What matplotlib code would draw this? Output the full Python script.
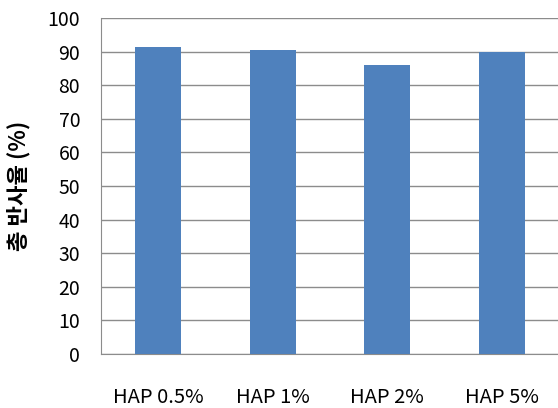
import matplotlib
matplotlib.use("Agg")
import matplotlib.pyplot as plt

plt.rcParams['font.family'] = ['Noto Sans CJK KR', 'DejaVu Sans']

labels = ['HAP 0.5%', 'HAP 1%', 'HAP 2%', 'HAP 5%']
reflectance = [91.4, 90.6, 86.1, 89.8]
yticks = [0, 10, 20, 30, 40, 50, 60, 70, 80, 90, 100]

fig = plt.figure(figsize=(5.58, 4.08), dpi=100)
ax = fig.add_axes([101 / 558, 1 - 354 / 408, 458 / 558, 336 / 408])

x = range(len(labels))
ax.bar(x, reflectance, width=0.4, color='#4F81BD', zorder=3)

ax.set_xlim(-0.5, len(labels) - 0.5)
ax.set_ylim(0, 100)
ax.set_yticks(yticks)
ax.set_xticks(list(x))
ax.set_xticklabels(labels)
ax.grid(axis='y', color='#8c8c8c', linewidth=1, zorder=0)

for side in ['top', 'right']:
    ax.spines[side].set_visible(False)
for side in ['left', 'bottom']:
    ax.spines[side].set_color('#8c8c8c')

ax.tick_params(axis='y', length=0, pad=15, labelsize=14)
ax.tick_params(axis='x', length=0, pad=24, labelsize=14.5)

ax.set_ylabel('총 반사율 (%)', fontsize=16, fontweight='bold', labelpad=12)

fig.savefig('out.png', dpi=100)
